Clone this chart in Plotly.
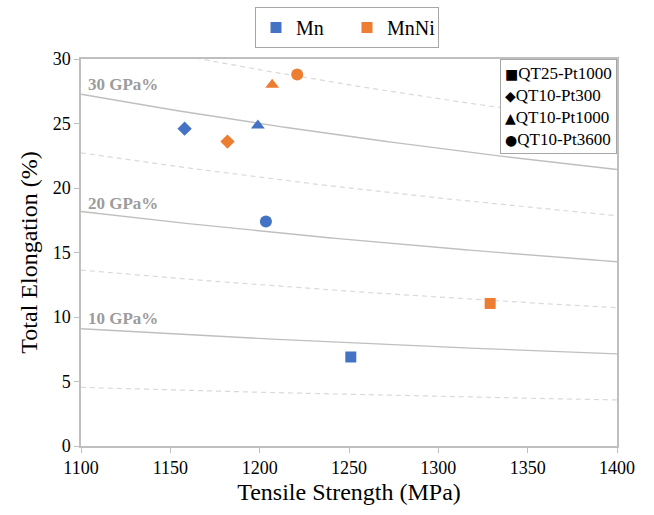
import plotly.graph_objects as go
import numpy as np

# Data
conditions = ["QT25-Pt1000", "QT10-Pt300", "QT10-Pt1000", "QT10-Pt3600"]
symbols = ["square", "diamond", "triangle-up", "circle"]
symbol_glyphs = ["■", "◆", "▲", "●"]
mn_ts = [1251, 1158, 1199, 1203.5]
mn_te = [6.9, 24.6, 24.85, 17.4]
mnni_ts = [1329, 1182, 1207, 1221]
mnni_te = [11.05, 23.6, 28.0, 28.8]

solid_products = [10000, 20000, 30000]   # MPa% (10, 20, 30 GPa%)
dashed_products = [5000, 15000, 25000, 35000]
iso_labels = ["10 GPa%", "20 GPa%", "30 GPa%"]
x_ticks = [1100, 1150, 1200, 1250, 1300, 1350, 1400]
y_ticks = [0, 5, 10, 15, 20, 25, 30]

BLUE = "#4472C4"
ORANGE = "#ED7D31"
FONT = "Liberation Serif, Times New Roman, serif"

fig = go.Figure()

ts_grid = np.linspace(1100, 1400, 121)
for p in dashed_products:
    fig.add_trace(go.Scatter(x=ts_grid, y=p / ts_grid, mode="lines",
                             line=dict(color="#D9D9D9", width=1.2, dash="5px,4px"),
                             showlegend=False, hoverinfo="skip"))
for p in solid_products:
    fig.add_trace(go.Scatter(x=ts_grid, y=p / ts_grid, mode="lines",
                             line=dict(color="#BFBFBF", width=1.4),
                             showlegend=False, hoverinfo="skip"))

sizes = {"square": 11, "diamond": 11, "triangle-up": 12, "circle": 12}
for i, sym in enumerate(symbols):
    fig.add_trace(go.Scatter(x=[mn_ts[i]], y=[mn_te[i]], mode="markers",
                             marker=dict(color=BLUE, symbol=sym, size=sizes[sym]),
                             showlegend=False))
    fig.add_trace(go.Scatter(x=[mnni_ts[i]], y=[mnni_te[i]], mode="markers",
                             marker=dict(color=ORANGE, symbol=sym, size=sizes[sym]),
                             showlegend=False))

# Legend 1 (alloy)
fig.add_trace(go.Scatter(x=[None], y=[None], mode="markers", name="Mn",
                         marker=dict(color=BLUE, symbol="square", size=11),
                         legend="legend"))
fig.add_trace(go.Scatter(x=[None], y=[None], mode="markers", name="MnNi",
                         marker=dict(color=ORANGE, symbol="square", size=11),
                         legend="legend"))

# Legend 2 (conditions) as a boxed text block
glyph_style = "font-family:DejaVu Sans;font-size:14px"
cond_text = "<br>".join("<span style='%s'>%s</span>%s" % (glyph_style, g, n)
                        for g, n in zip(symbol_glyphs, conditions))
fig.add_annotation(xref="paper", yref="paper", x=1, y=1, xanchor="right", yanchor="top",
                   text=cond_text, showarrow=False, align="left",
                   font=dict(family=FONT, size=17, color="black"),
                   bordercolor="#A6A6A6", borderwidth=1, borderpad=4, bgcolor="white")

label_y = [9.85, 18.8, 28.0]
for lab, yy in zip(iso_labels, label_y):
    fig.add_annotation(x=1103, y=yy, text="<b>" + lab + "</b>", showarrow=False,
                       xanchor="left", yanchor="middle",
                       font=dict(family=FONT, size=17, color="#9C9C9C"))

fig.update_layout(
    width=654, height=515,
    margin=dict(l=81, r=37, t=59, b=69, autoexpand=False),
    paper_bgcolor="white", plot_bgcolor="white",
    font=dict(family=FONT, color="black"),
    xaxis=dict(range=[1100, 1400], tickvals=x_ticks, showgrid=False,
               zeroline=False, showline=True, linecolor="#BFBFBF", linewidth=1.5,
               mirror=True, ticks="outside", tickcolor="#BFBFBF", ticklen=5,
               tickfont=dict(size=18, family=FONT),
               title=dict(text="Tensile Strength (MPa)", font=dict(size=24, family=FONT),
                          standoff=6)),
    yaxis=dict(range=[0, 30], tickvals=y_ticks, showgrid=False,
               zeroline=False, showline=True, linecolor="#BFBFBF", linewidth=1.5,
               mirror=True, ticks="outside", tickcolor="#BFBFBF", ticklen=5,
               tickfont=dict(size=18, family=FONT),
               title=dict(text="Total Elongation (%)", font=dict(size=24, family=FONT),
                          standoff=8)),
    legend=dict(orientation="h", xref="container", yref="container",
                x=347 / 654, xanchor="center", y=1 - 7 / 515, yanchor="top",
                bordercolor="#A6A6A6", borderwidth=1, bgcolor="white",
                font=dict(size=20, family=FONT), itemwidth=30,
                entrywidth=46),
)

fig.write_html("out.html", config={"displayModeBar": False},
               post_script="document.body.style.margin='0';")
